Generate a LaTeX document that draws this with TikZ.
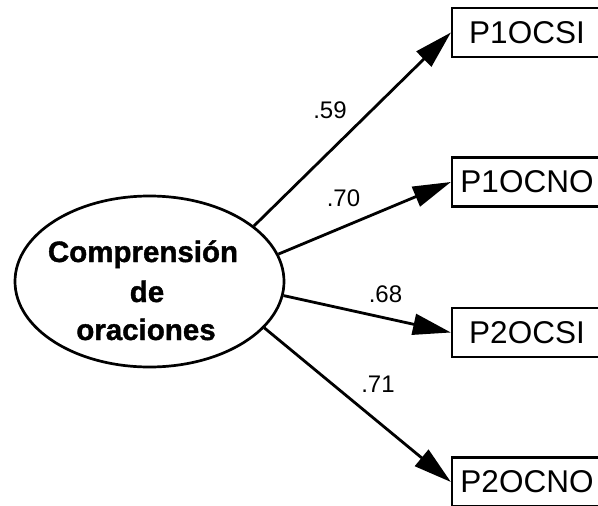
\documentclass[tikz,border=0pt]{standalone}
\usepackage{fontspec}
\setmainfont{Liberation Sans}
\newfontfamily\heavyfont{Liberation Sans}[BoldFeatures={FakeBold=1.3}]
\usetikzlibrary{arrows.meta,shapes.geometric}
\begin{document}
\begin{tikzpicture}[x=1pt,y=-1pt,
  latent/.style={draw,ellipse,line width=2.7pt,minimum width=269pt,minimum height=171pt,inner sep=0pt},
  latenttext/.style={anchor=base,inner sep=0pt,font=\heavyfont\fontsize{29.5}{36}\selectfont\bfseries},
  indicator/.style={draw,line width=2.2pt,minimum width=150pt,minimum height=49pt,inner sep=0pt,
    font=\fontsize{31.5}{36}\selectfont},
  path/.style={line width=2.8pt,-{Triangle[length=38pt,width=21pt]}},
  weight/.style={inner sep=0pt,font=\fontsize{24}{28}\selectfont}]
  \useasboundingbox (0,0) rectangle (598,506);

  % latent factor
  \node[latent] (f) at (149.5,281.5) {};
  \node[latenttext] (t1) at (143,262) {Comprensión};
  \node[latenttext] (t2) at (147,302) {de};
  \node[latenttext] (t3) at (146,340) {oraciones};

  % observed indicators
  \node[indicator] (b1) at (527,32.5) {P1OCSI};
  \node[indicator] (b2) at (527,182) {P1OCNO};
  \node[indicator] (b3) at (527,332.5) {P2OCSI};
  \node[indicator] (b4) at (527,482) {P2OCNO};

  % loadings
  \draw[path] (f.28.6) -- (b1.west);
  \draw[path] (f.12.5) -- (b2.west);
  \draw[path] (f.-6.2) -- (b3.west);
  \draw[path] (f.-22.7) -- (b4.west);

  \node[weight] (w1) at (330,110) {.59};
  \node[weight] (w2) at (343.5,198) {.70};
  \node[weight] (w3) at (385.5,294) {.68};
  \node[weight] (w4) at (378,384.5) {.71};
\end{tikzpicture}
\end{document}
